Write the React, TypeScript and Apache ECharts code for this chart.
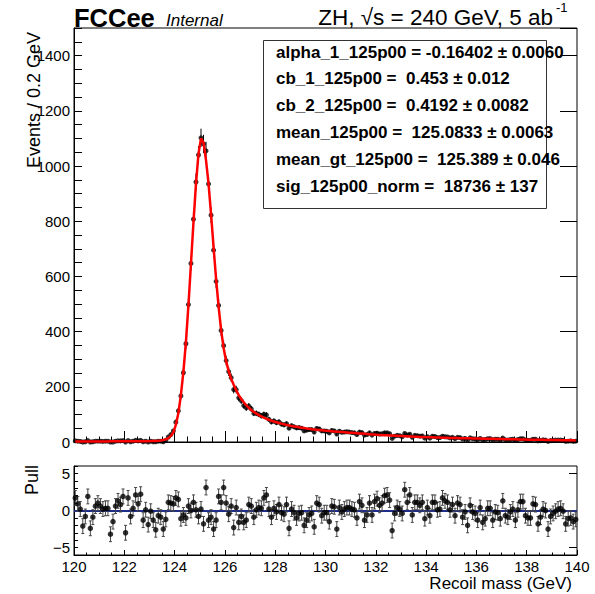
import React, { useEffect, useRef } from "react";
import * as echarts from "echarts";

const FONT = "'Liberation Sans', Arial, Helvetica, sans-serif";

// Binning of the recoil-mass histogram
const BIN_LOW = 120;
const BIN_WIDTH = 0.1;
const X_MIN = 120;
const X_MAX = 140;
const Y_MAX = 1500;
const PULL_MIN = -6;
const PULL_MAX = 6;
const PULL_MAJOR_TICKS = [-5, 0, 5];

// Events per bin (data points)
const COUNTS = [
  4, 3, 2, 0, 1, 5, 0, 1, 3, 3,
  3, 2, 3, 3, 0, 0, 3, 4, 4, 5,
  0, 5, 1, 3, 6, 4, 6, 1, 3, 0,
  3, 1, 1, 3, 3, 1, 6, 18, 27, 40,
  72, 113, 167, 251, 356, 498, 647, 807, 942, 1040,
  1102, 1080, 1055, 935, 822, 695, 582, 495, 404, 349,
  295, 255, 233, 190, 190, 160, 150, 132, 124, 130,
  120, 104, 104, 100, 95, 100, 98, 82, 73, 76,
  70, 73, 65, 62, 66, 50, 59, 55, 51, 52,
  50, 40, 43, 45, 45, 36, 49, 47, 40, 40,
  39, 33, 42, 40, 29, 39, 35, 36, 37, 36,
  34, 33, 27, 36, 34, 25, 27, 33, 25, 31,
  32, 29, 30, 33, 33, 30, 13, 21, 24, 23,
  19, 31, 25, 28, 17, 24, 23, 21, 22, 14,
  19, 14, 21, 20, 16, 16, 21, 19, 18, 15,
  17, 12, 17, 16, 11, 13, 7, 15, 12, 11,
  9, 13, 8, 9, 12, 12, 8, 10, 10, 7,
  14, 8, 7, 9, 10, 6, 9, 12, 12, 7,
  6, 6, 10, 10, 4, 5, 8, 7, 2, 5,
  6, 7, 7, 7, 6, 2, 3, 4, 2, 3,
];

// Fit model evaluated at the bin centres
const FIT = [
  2.0, 2.0, 2.0, 2.0, 2.0, 2.1, 2.1, 2.1, 2.1, 2.1,
  2.2, 2.2, 2.2, 2.2, 2.3, 2.3, 2.3, 2.3, 2.4, 2.4,
  2.4, 2.5, 2.5, 2.6, 2.6, 2.7, 2.8, 2.9, 3.0, 3.1,
  3.3, 3.6, 4.0, 4.6, 5.5, 7.0, 9.5, 14, 22, 35,
  62, 105, 170, 255, 362, 495, 645, 795, 935, 1045,
  1100, 1085, 1020, 935, 825, 705, 590, 490, 405, 340,
  292, 257, 228, 207, 187, 170, 156, 144, 133, 124,
  116, 109, 103, 97.5, 92.5, 88, 84, 80.5, 77, 74,
  71.5, 69, 66.5, 64, 62, 60, 58, 56.5, 55, 53.5,
  52, 50.5, 49, 48, 46.5, 45.5, 44.5, 43.5, 42.5, 41.5,
  40.7, 39.9, 39.1, 38.3, 37.5, 36.7, 36.0, 35.3, 34.6, 33.9,
  33.2, 32.5, 31.8, 31.1, 30.4, 29.7, 29.0, 28.3, 27.6, 26.9,
  26.2, 25.7, 25.2, 24.7, 24.2, 23.7, 23.2, 22.7, 22.2, 21.7,
  21.3, 20.9, 20.5, 20.1, 19.7, 19.3, 18.9, 18.5, 18.1, 17.7,
  17.4, 17.1, 16.8, 16.5, 16.2, 15.9, 15.6, 15.35, 15.1, 14.85,
  14.6, 14.4, 14.2, 14.0, 13.8, 13.6, 13.4, 13.2, 13.0, 12.8,
  12.6, 12.4, 12.2, 12.0, 11.8, 11.6, 11.4, 11.2, 11.0, 10.8,
  10.6, 10.4, 10.2, 10.0, 9.8, 9.6, 9.4, 9.2, 9.0, 8.8,
  8.6, 8.45, 8.3, 8.15, 8.0, 7.85, 7.7, 7.55, 7.4, 7.25,
  7.1, 6.95, 6.8, 6.65, 6.5, 6.35, 6.2, 6.05, 5.9, 5.75,
];

// Pulls per bin
const PULLS = [
  1.7, 0.9, 0.2, -2.1, -0.8, 1.9, -2.4, -0.9, 0.6, 1.0,
  0.6, 0.2, 0.3, 0.3, -3.2, -1.5, 0.6, 1.3, 0.8, 1.9,
  -3.0, 1.7, -0.8, 0.3, 2.1, 0.9, 2.2, -1.3, 0.1, -1.9,
  -0.1, -1.3, -2.6, -0.7, -0.9, -2.5, -1.2, 1.1, 1.0, 0.9,
  1.7, 1.5, -1.1, -0.6, -1.0, 0.6, 0.0, 1.1, 0.1, -0.8,
  0.2, -1.8, 3.1, -1.3, -0.9, -2.5, -1.3, 1.9, 1.1, 3.1,
  1.0, -0.5, 0.6, -2.3, 0.4, -1.6, -0.8, -1.6, -1.3, 0.8,
  0.6, -0.9, 0.1, 0.4, 0.3, 1.7, 2.1, 0.2, -0.9, 0.3,
  -0.2, 0.8, -0.3, -0.5, 0.8, -2.4, 0.2, -0.3, -1.0, -0.4,
  -0.3, -2.0, -1.3, -0.6, -0.4, -2.2, 1.0, 0.8, -0.7, -0.3,
  -0.3, -1.5, 0.6, 0.5, -2.5, 0.4, -0.2, 0.2, 0.4, 0.4,
  0.2, 0.1, -1.0, 1.2, 0.7, -1.3, -0.6, 1.0, -0.6, 1.2,
  1.6, 0.7, 1.0, 2.0, 2.1, 1.4, -2.7, -0.4, 0.4, 0.2,
  -0.4, 2.8, 1.1, 2.1, -0.6, 1.1, 1.1, 0.7, 1.1, -1.1,
  0.4, -0.7, 1.1, 1.1, 0.1, 0.2, 1.7, 1.3, 1.1, 0.1,
  0.8, -0.7, 1.0, 0.8, -0.9, -0.2, -2.0, 0.7, -0.2, -0.4,
  -1.3, 0.4, -1.6, -1.1, 0.3, 0.3, -1.3, -0.2, -0.3, -1.1,
  1.3, -0.7, -0.9, -0.2, 0.2, -1.3, 0.1, 1.2, 1.2, -0.7,
  -1.0, -1.0, 0.9, 0.8, -1.8, -0.9, 0.2, 0.0, -2.5, -0.8,
  -0.4, -0.1, 0.2, 0.3, -0.1, -1.8, -1.1, -1.0, -1.5, -1.2,
];

const PARAM_LINES = [
  "alpha_1_125p00 = -0.16402 ± 0.0060",
  "cb_1_125p00 =  0.453 ± 0.012",
  "cb_2_125p00 =  0.4192 ± 0.0082",
  "mean_125p00 =  125.0833 ± 0.0063",
  "mean_gt_125p00 =  125.389 ± 0.046",
  "sig_125p00_norm =  18736 ± 137",
];

const TITLE_LEFT = "FCCee";
const TITLE_TAG = "Internal";
const TITLE_RIGHT = "ZH, √s = 240 GeV, 5 ab";
const TITLE_RIGHT_SUP = "-1";
const Y_TITLE = "Events / 0.2 GeV";
const PULL_TITLE = "Pull";
const X_TITLE = "Recoil mass (GeV)";

const binCenter = (i: number) => BIN_LOW + BIN_WIDTH * (i + 0.5);

export default function App() {
  const ref = useRef<HTMLDivElement>(null);

  useEffect(() => {
    if (!ref.current) return;
    const chart = echarts.init(ref.current, undefined, { renderer: "svg" });

    const dataPts = COUNTS.map((n, i) => [binCenter(i), n, n - Math.sqrt(n), n + Math.sqrt(n)]);
    const fitPts = FIT.map((v, i) => [binCenter(i), v]);
    const pullPts = PULLS.map((p, i) => [binCenter(i), p, p - 1, p + 1]);

    const labelStyle = { fontFamily: FONT, fontSize: 15, color: "#000" };

    const xAxisBase = {
      type: "value" as const,
      min: X_MIN,
      max: X_MAX,
      interval: 2,
      splitLine: { show: false },
      axisLine: { show: true, onZero: false, lineStyle: { color: "#000", width: 1 } },
    };

    const grids = [
      { left: 74, top: 28, width: 503, height: 414, show: true, borderColor: "#000", borderWidth: 1, backgroundColor: "transparent" },
      { left: 74, top: 466, width: 503, height: 89, show: true, borderColor: "#000", borderWidth: 1, backgroundColor: "transparent" },
    ];

    const paramGraphics = PARAM_LINES.map((t, k) => ({
      type: "text",
      x: 276,
      y: 52 + 26.8 * k,
      style: {
        text: t,
        fontFamily: FONT,
        fontSize: 17,
        fontWeight: "bold",
        fill: "#000",
        align: "left",
        verticalAlign: "middle",
      },
      z: 10,
    }));

    const option: any = {
      animation: false,
      backgroundColor: "#fff",
      textStyle: { fontFamily: FONT },
      grid: grids,
      xAxis: [
        {
          ...xAxisBase,
          gridIndex: 0,
          axisTick: { show: true, inside: true, length: 11, lineStyle: { color: "#000" } },
          minorTick: { show: true, splitNumber: 4, length: 5.5, lineStyle: { color: "#000" } },
          axisLabel: { show: false },
        },
        {
          ...xAxisBase,
          gridIndex: 1,
          axisTick: { show: true, inside: true, length: 5, lineStyle: { color: "#000" } },
          minorTick: { show: true, splitNumber: 4, length: 2.5, lineStyle: { color: "#000" } },
          axisLabel: { ...labelStyle, margin: 4, formatter: (v: number) => String(Math.round(v)) },
        },
      ],
      yAxis: [
        {
          type: "value",
          gridIndex: 0,
          min: 0,
          max: Y_MAX,
          interval: 50,
          splitLine: { show: false },
          axisLine: { show: true, lineStyle: { color: "#000" } },
          axisTick: { show: true, inside: true, length: 8, lineStyle: { color: "#000" } },
          axisLabel: {
            ...labelStyle,
            margin: 4,
            formatter: (v: number) => (Math.round(v) % 200 === 0 ? String(Math.round(v)) : ""),
          },
        },
        {
          type: "value",
          gridIndex: 0,
          min: 0,
          max: Y_MAX,
          interval: 200,
          splitLine: { show: false },
          axisLine: { show: false },
          axisTick: { show: true, inside: true, length: 17, lineStyle: { color: "#000" } },
          axisLabel: { show: false },
        },
        {
          type: "value",
          gridIndex: 1,
          min: PULL_MIN,
          max: PULL_MAX,
          interval: 1,
          splitLine: { show: false },
          axisLine: { show: true, lineStyle: { color: "#000" } },
          axisTick: { show: true, inside: true, length: 4, lineStyle: { color: "#000" } },
          axisLabel: {
            ...labelStyle,
            margin: 4,
            formatter: (v: number) => {
              const r = Math.round(v);
              if (r === 5) return "5";
              if (r === 0) return "0";
              if (r === -5) return "\u22125";
              return "";
            },
          },
        },
        {
          type: "value",
          gridIndex: 1,
          min: PULL_MIN,
          max: PULL_MAX,
          splitLine: { show: false },
          axisLine: { show: false },
          axisTick: { show: true, inside: true, length: 8, customValues: PULL_MAJOR_TICKS, lineStyle: { color: "#000" } },
          axisLabel: { show: false, customValues: PULL_MAJOR_TICKS },
        },
      ],
      series: [
        {
          type: "custom",
          name: "dataErr",
          xAxisIndex: 0,
          yAxisIndex: 0,
          clip: true,
          data: dataPts,
          encode: { x: 0, y: 1 },
          renderItem: (_p: any, api: any) => {
            const x = api.value(0);
            const a = api.coord([x, api.value(2)]);
            const b = api.coord([x, api.value(3)]);
            return {
              type: "line",
              shape: { x1: a[0], y1: a[1], x2: b[0], y2: b[1] },
              style: { stroke: "#000", lineWidth: 1 },
            };
          },
          z: 3,
        },
        {
          type: "scatter",
          name: "data",
          xAxisIndex: 0,
          yAxisIndex: 0,
          data: dataPts.map((d) => [d[0], d[1]]),
          symbol: "circle",
          symbolSize: 5,
          itemStyle: { color: "#000" },
          z: 4,
        },
        {
          type: "line",
          name: "fit",
          xAxisIndex: 0,
          yAxisIndex: 0,
          data: fitPts,
          showSymbol: false,
          smooth: false,
          lineStyle: { color: "#ff0000", width: 2.5 },
          z: 5,
        },
        {
          type: "custom",
          name: "pullErr",
          xAxisIndex: 1,
          yAxisIndex: 2,
          clip: true,
          data: pullPts,
          encode: { x: 0, y: 1 },
          renderItem: (_p: any, api: any) => {
            const x = api.value(0);
            const a = api.coord([x, api.value(2)]);
            const b = api.coord([x, api.value(3)]);
            const st = { stroke: "#444", lineWidth: 1 };
            return {
              type: "group",
              children: [
                { type: "line", shape: { x1: a[0], y1: a[1], x2: b[0], y2: b[1] }, style: st },
                { type: "line", shape: { x1: a[0] - 1.5, y1: a[1], x2: a[0] + 1.5, y2: a[1] }, style: st },
                { type: "line", shape: { x1: b[0] - 1.5, y1: b[1], x2: b[0] + 1.5, y2: b[1] }, style: st },
              ],
            };
          },
          z: 3,
        },
        {
          type: "scatter",
          name: "pull",
          xAxisIndex: 1,
          yAxisIndex: 2,
          data: pullPts.map((d) => [d[0], d[1]]),
          symbol: "circle",
          symbolSize: 5.5,
          itemStyle: { color: "#000" },
          z: 4,
          markLine: {
            silent: true,
            symbol: ["none", "none"],
            label: { show: false },
            lineStyle: { color: "#1f2d8a", width: 2, type: "solid" },
            data: [{ yAxis: 0 }],
            z: 2,
          },
        },
      ],
      graphic: [
        {
          type: "text",
          x: 74,
          y: 17.5,
          style: { text: TITLE_LEFT, fontFamily: FONT, fontSize: 25.5, fontWeight: "bold", fill: "#000", align: "left", verticalAlign: "middle" },
        },
        {
          type: "text",
          x: 166,
          y: 20.5,
          style: { text: TITLE_TAG, fontFamily: FONT, fontSize: 17, fontStyle: "italic", fill: "#000", align: "left", verticalAlign: "middle" },
        },
        {
          type: "text",
          x: 553,
          y: 17.5,
          style: { text: TITLE_RIGHT, fontFamily: FONT, fontSize: 22.5, fill: "#000", align: "right", verticalAlign: "middle" },
        },
        {
          type: "text",
          x: 556,
          y: 7,
          style: { text: TITLE_RIGHT_SUP, fontFamily: FONT, fontSize: 13, fill: "#000", align: "left", verticalAlign: "middle" },
        },
        {
          type: "text",
          x: 33.5,
          y: 32,
          rotation: Math.PI / 2,
          style: { text: Y_TITLE, fontFamily: FONT, fontSize: 18, fill: "#000", align: "right", verticalAlign: "middle" },
        },
        {
          type: "text",
          x: 31.5,
          y: 465,
          rotation: Math.PI / 2,
          style: { text: PULL_TITLE, fontFamily: FONT, fontSize: 18, fill: "#000", align: "right", verticalAlign: "middle" },
        },
        {
          type: "text",
          x: 572,
          y: 583,
          style: { text: X_TITLE, fontFamily: FONT, fontSize: 17, fill: "#000", align: "right", verticalAlign: "middle" },
        },
        {
          type: "rect",
          shape: { x: 263.5, y: 40.5, width: 283, height: 168 },
          style: { fill: "#fff", stroke: "#333", lineWidth: 1 },
          z: 9,
        },
        ...paramGraphics,
      ],
    };

    chart.setOption(option);
    return () => chart.dispose();
  }, []);

  return (
    <div
      ref={ref}
      style={{ position: "fixed", left: 0, top: 0, width: 595, height: 594, background: "#fff" }}
    />
  );
}
